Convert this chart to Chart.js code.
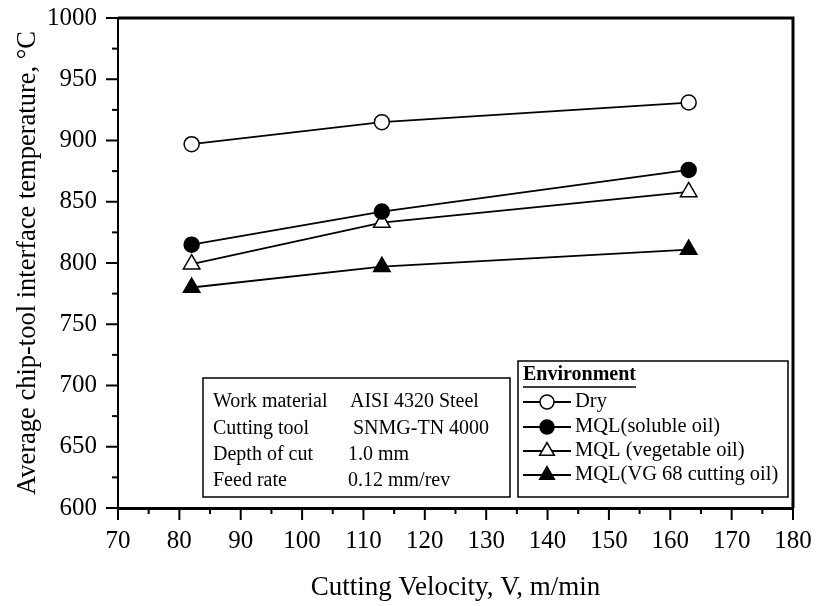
<!DOCTYPE html>
<html>
<head>
<meta charset="utf-8">
<script src="https://cdn.jsdelivr.net/npm/chart.js@4.4.1/dist/chart.umd.min.js"></script>
<style>
html, body { margin: 0; padding: 0; background: #fff; }
</style>
</head>
<body>
<canvas id="chart" width="817" height="606"></canvas>
<script>
// values
var velocity = [82, 113, 163];
var dryTemp = [897, 915, 931];
var solubleTemp = [815, 842, 876];
var vegetableTemp = [799, 833, 858];
var vg68Temp = [780, 797, 811];
var seriesNames = ['Dry', 'MQL(soluble oil)', 'MQL (vegetable oil)', 'MQL(VG 68 cutting oil)'];
var legendTitle = 'Environment';
var infoLabels = ['Work material', 'Cutting tool', 'Depth of cut', 'Feed rate'];
var infoValues = ['AISI 4320 Steel', 'SNMG-TN 4000', '1.0 mm', '0.12 mm/rev'];
var xTitle = 'Cutting Velocity, V, m/min';
var yTitle = 'Average chip-tool interface temperature, \u00B0C';

var SERIF = '"Liberation Serif", "Times New Roman", serif';

function points(xs, ys) {
    var out = [];
    for (var i = 0; i < xs.length; i++) out.push({x: xs[i], y: ys[i]});
    return out;
}

function series(label, ys, style, fill, r) {
    return {
        label: label,
        data: points(velocity, ys),
        borderColor: '#000',
        borderWidth: 1.8,
        backgroundColor: fill,
        pointStyle: style,
        pointRadius: r,
        pointHoverRadius: r,
        pointBorderWidth: 1.5,
        pointBorderColor: '#000',
        pointBackgroundColor: fill,
        tension: 0,
        fill: false
    };
}

// outward tick marks, the top/right frame and the two boxes
var decorations = {
    id: 'decorations',
    afterDraw: function(chart) {
        var ctx = chart.ctx, a = chart.chartArea;
        var xs = chart.scales.x, ys = chart.scales.y;
        ctx.save();
        ctx.strokeStyle = '#000';
        ctx.fillStyle = '#000';

        // frame
        ctx.lineWidth = 3;
        ctx.beginPath();
        ctx.moveTo(a.left, a.top);
        ctx.lineTo(a.right, a.top);
        ctx.lineTo(a.right, a.bottom);
        ctx.stroke();

        // ticks
        ctx.lineWidth = 2;
        xs.ticks.forEach(function(t) {
            var px = xs.getPixelForValue(t.value);
            var len = t.value % 10 === 0 ? 12 : 6;
            ctx.beginPath();
            ctx.moveTo(px, a.bottom);
            ctx.lineTo(px, a.bottom + len);
            ctx.stroke();
        });
        ys.ticks.forEach(function(t) {
            var py = ys.getPixelForValue(t.value);
            var len = t.value % 50 === 0 ? 12 : 6;
            ctx.beginPath();
            ctx.moveTo(a.left, py);
            ctx.lineTo(a.left - len, py);
            ctx.stroke();
        });

        // info box
        ctx.lineWidth = 1.5;
        ctx.fillStyle = '#fff';
        ctx.fillRect(203, 378, 307, 119);
        ctx.strokeRect(203, 378, 307, 119);
        ctx.fillStyle = '#000';
        ctx.font = '20px ' + SERIF;
        ctx.textBaseline = 'middle';
        ctx.textAlign = 'left';
        var rowsY = [402, 429, 455, 481];
        var valX = [350, 353, 348, 348];
        for (var i = 0; i < infoLabels.length; i++) {
            ctx.fillText(infoLabels[i], 213, rowsY[i]);
            ctx.fillText(infoValues[i], valX[i], rowsY[i]);
        }

        // legend box
        ctx.fillStyle = '#fff';
        ctx.fillRect(518, 361, 270, 136);
        ctx.strokeRect(518, 361, 270, 136);
        ctx.fillStyle = '#000';
        ctx.font = 'bold 20px ' + SERIF;
        ctx.fillText(legendTitle, 523, 375);
        var tw = ctx.measureText(legendTitle).width;
        ctx.lineWidth = 1.5;
        ctx.beginPath();
        ctx.moveTo(523, 387);
        ctx.lineTo(523 + tw, 387);
        ctx.stroke();

        ctx.font = '20.5px ' + SERIF;
        var legY = [402, 427, 451, 475];
        chart.data.datasets.forEach(function(ds, k) {
            var y = legY[k];
            ctx.lineWidth = 1.8;
            ctx.strokeStyle = '#000';
            ctx.beginPath();
            ctx.moveTo(523, y);
            ctx.lineTo(571, y);
            ctx.stroke();
            ctx.fillStyle = ds.pointBackgroundColor;
            ctx.lineWidth = 1.5;
            Chart.helpers.drawPoint(ctx, {
                pointStyle: ds.pointStyle,
                radius: ds.pointStyle === 'circle' ? 7 : 8.5,
                rotation: 0,
                borderWidth: 1.5
            }, 547, y);
            ctx.fillStyle = '#000';
            ctx.fillText(ds.label, 575, y);
        });
        ctx.restore();
    }
};

var ctx = document.getElementById('chart').getContext('2d');
var chart = new Chart(ctx, {
    type: 'line',
    data: {
        datasets: [
            series(seriesNames[0], dryTemp, 'circle', '#fff', 7.5),
            series(seriesNames[1], solubleTemp, 'circle', '#000', 7.5),
            series(seriesNames[2], vegetableTemp, 'triangle', '#fff', 9.5),
            series(seriesNames[3], vg68Temp, 'triangle', '#000', 9.5)
        ]
    },
    options: {
        responsive: false,
        animation: false,
        events: [],
        layout: { padding: { left: 0, top: 18, right: 24, bottom: 0 } },
        plugins: {
            legend: { display: false },
            tooltip: { enabled: false }
        },
        scales: {
            x: {
                type: 'linear',
                min: 70,
                max: 180,
                grid: { display: false, drawTicks: false },
                border: { display: true, color: '#000', width: 3 },
                ticks: {
                    stepSize: 5,
                    autoSkip: false,
                    maxRotation: 0,
                    padding: 18,
                    color: '#000',
                    font: { family: SERIF, size: 25 },
                    callback: function(v) { return v % 10 === 0 ? String(v) : ''; }
                },
                title: {
                    display: true,
                    text: xTitle,
                    color: '#000',
                    font: { family: SERIF, size: 27 },
                    padding: { top: 0, bottom: 2 }
                },
                afterFit: function(s) {
                    s.height = 98;
                    s.paddingLeft = 0;
                    s.paddingRight = 0;
                }
            },
            y: {
                min: 600,
                max: 1000,
                grid: { display: false, drawTicks: false },
                border: { display: true, color: '#000', width: 2 },
                ticks: {
                    stepSize: 25,
                    autoSkip: false,
                    padding: 21,
                    color: '#000',
                    font: { family: SERIF, size: 25 },
                    callback: function(v) { return v % 50 === 0 ? String(v) : ''; }
                },
                title: {
                    display: true,
                    text: yTitle,
                    color: '#000',
                    font: { family: SERIF, size: 26.5 },
                    padding: { top: 12, bottom: 0 }
                },
                afterFit: function(s) {
                    s.width = 118;
                    s.paddingTop = 0;
                    s.paddingBottom = 0;
                }
            }
        }
    },
    plugins: [decorations]
});
</script>
</body>
</html>
